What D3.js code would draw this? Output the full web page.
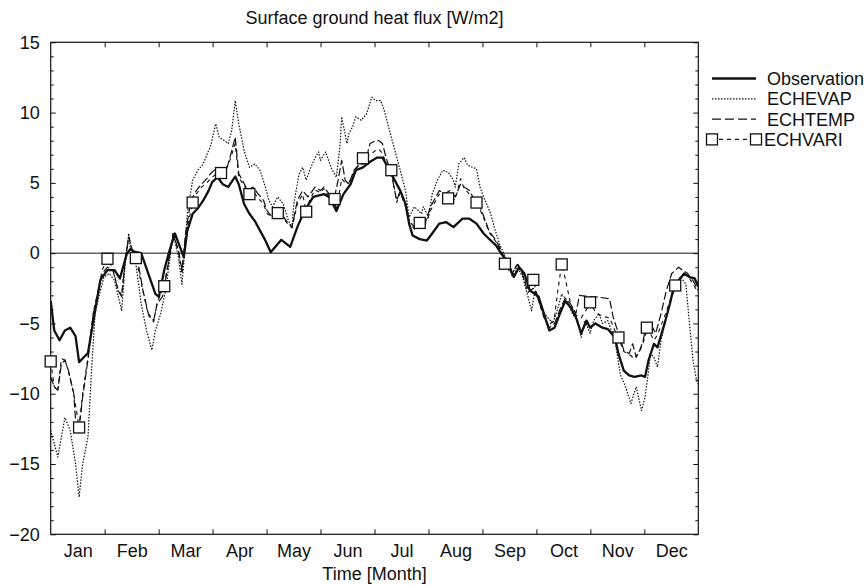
<!DOCTYPE html>
<html>
<head>
<meta charset="utf-8">
<script src="https://cdn.jsdelivr.net/npm/d3@7"></script>
<style>
  body { margin: 0; background: #fff; }
  svg { display: block; font-family: "Liberation Sans", Arial, Helvetica, sans-serif; }
</style>
</head>
<body>
<svg id="chart" width="867" height="586"></svg>
<script>
// ---------- DATA ----------
const monthLabels = ["Jan","Feb","Mar","Apr","May","Jun","Jul","Aug","Sep","Oct","Nov","Dec"];
const yTicks = [-20, -15, -10, -5, 0, 5, 10, 15];

const obsDays = [0,2,5,8,11,14,16,21,25,28,32,36,39,43,45,47,51,55,59,61,64,67,70,73,75,77,80,83,86,89,91,94,97,100,104,106,109,112,115,118,121,124,130,135,139,143,148,154,157,161,165,169,172,176,180,184,187,189,193,197,200,202,204,208,212,215,219,223,227,232,236,240,244,248,251,254,257,261,264,267,270,273,275,278,281,284,287,290,293,296,299,302,304,307,311,314,318,320,323,326,329,333,335,337,340,342,346,349,351,354,357,360,363,365];
const obsValues = [-3.4,-5.5,-6.2,-5.5,-5.3,-5.9,-7.75,-7.1,-4.1,-1.9,-1.2,-1.2,-1.8,0,0.3,0.1,0,-1.45,-2.9,-3.1,-1.2,0.2,1.4,0.4,-0.3,1.6,2.8,3.2,3.75,4.45,5.05,5.4,4.9,4.7,5.45,4.9,3.5,2.8,2.3,1.6,0.9,0.07,0.95,0.45,1.85,3.0,4.0,4.2,4.0,3.0,4.2,4.9,5.9,6.1,6.5,6.8,6.8,6.35,5.4,4.45,3.5,2.1,1.25,1.0,0.9,1.4,2.1,2.2,1.85,2.45,2.45,2.1,1.4,0.9,0.55,-0.05,-0.5,-1.7,-1.0,-1.45,-2.65,-2.9,-3.1,-4.3,-5.5,-5.3,-4.3,-3.4,-3.85,-4.55,-5.7,-4.8,-5.3,-5.0,-5.3,-5.4,-6.0,-7.15,-8.35,-8.7,-8.8,-8.7,-8.8,-7.6,-6.45,-6.7,-5.0,-3.6,-2.5,-1.95,-1.45,-1.7,-1.8,-2.4];

const evapDays = [0,4,8,11,14,16,18,21,23,25,28,30,33,36,40,42,44,45,48,51,54,57,59,62,65,69,72,74,75,77,80,83,86,89,90,93,95,98,100,102,104,106,109,112,115,118,121,123,125,128,131,134,136,137,140,142,144,146,149,151,152,155,158,161,163,164,167,168,170,172,175,178,181,183,186,188,191,194,197,200,202,205,209,210,213,215,218,221,224,227,228,230,233,235,238,240,242,244,248,250,253,255,258,261,263,266,269,271,273,275,277,280,283,286,288,291,294,297,299,301,304,306,309,311,314,318,321,324,327,330,333,335,337,338,340,342,344,347,350,352,355,358,360,362,364,365];
const evapValues = [-12.6,-14.5,-11.7,-12.6,-15.0,-17.35,-15.0,-13.1,-8.35,-4.3,-2.65,-1.7,-1.45,-1.95,-4.1,-0.75,1.4,0.2,-0.75,-3.6,-5.5,-6.9,-5.5,-4.3,-2.5,1.4,-0.3,-2.2,-0.75,2.8,5.2,5.9,6.35,7.3,7.55,9.2,8.25,8.0,7.8,8.7,10.85,9.2,7.3,6.1,6.35,5.9,4.7,3.75,3.3,4.0,3.5,2.3,1.85,3.5,5.65,6.1,5.2,5.9,6.8,7.2,6.6,7.2,6.1,5.4,7.55,9.7,7.8,8.5,8.95,9.7,9.45,9.9,11.1,10.85,10.85,10.15,8.7,7.3,5.9,4.45,2.55,3.3,2.8,3.3,2.55,4.2,5.2,5.9,5.75,5.2,4.7,6.35,6.8,6.25,6.1,6.0,4.7,4.0,2.8,1.85,0.65,0.07,-0.75,-1.7,-1.0,-1.7,-3.1,-4.1,-2.65,-3.4,-4.1,-4.55,-5.0,-3.85,-2.9,-3.4,-4.3,-4.8,-6.0,-4.8,-5.7,-4.8,-4.3,-5.0,-4.8,-6.2,-8.6,-9.5,-10.7,-9.5,-11.2,-10.25,-8.35,-7.15,-7.4,-8.1,-6.2,-4.55,-3.1,-2.2,-1.7,-2.2,-5.0,-7.6,-9.05,-9.3];

const tempDays = [0,2,4,6,8,10,13,14,16,18,21,24,27,29,32,35,38,40,42,44,46,49,52,55,58,60,63,66,69,72,74,76,79,82,85,88,90,93,96,99,101,104,106,108,111,114,117,120,122,125,130,134,136,139,142,145,149,152,154,157,160,162,164,166,168,171,174,177,180,183,185,187,189,192,195,197,200,202,205,208,211,214,216,219,222,225,228,231,233,236,238,242,245,247,251,254,256,260,263,266,269,272,275,278,281,284,287,290,293,296,298,304,307,315,317,320,323,326,328,330,332,334,335,338,341,344,347,350,354,356,359,362,365];
const tempValues = [-8.8,-9.5,-9.75,-7.9,-7.6,-8.35,-10.0,-11.9,-12.4,-10.25,-7.6,-4.3,-2.65,-1.45,-1.0,-1.2,-2.65,-3.1,-0.5,1.15,0.2,-0.5,-2.65,-4.3,-4.8,-3.6,-3.1,-1.0,1.4,0.2,-1.2,1.4,3.75,4.45,4.9,5.3,5.65,6.0,5.9,5.9,6.8,8.25,5.65,5.2,4.45,4.7,4.2,3.75,3.0,2.55,2.8,2.1,1.85,3.75,4.45,4.0,4.7,4.45,4.7,4.2,4.0,5.2,6.6,5.2,4.9,5.9,6.35,6.35,7.8,8.0,8.0,7.8,6.8,5.65,3.75,4.45,3.5,2.3,1.85,2.55,2.1,3.3,3.75,4.45,4.2,4.45,4.0,4.9,4.7,4.45,4.0,3.3,2.3,1.6,0.9,0.2,-0.6,-1.5,-0.8,-1.5,-2.8,-2.5,-3.3,-4.5,-5.3,-5.0,-4.0,-3.2,-3.6,-4.3,-3.0,-3.1,-3.1,-3.25,-4.55,-5.7,-6.9,-7.15,-6.45,-7.4,-6.9,-6.2,-5.5,-5.0,-5.7,-4.3,-2.65,-1.45,-1.0,-1.2,-1.45,-1.95,-2.65];

const variDays = [0,2,4,6,8,10,13,16,18,21,24,27,29,32,35,38,40,42,44,46,48,52,55,58,60,64,66,69,72,74,76,80,82,85,88,90,93,96,98,101,104,106,108,112,114,117,120,122,125,128,130,134,136,139,142,144,146,149,152,154,157,160,161,164,166,168,171,174,176,180,183,185,187,189,192,195,197,200,202,205,208,211,214,216,219,222,224,228,231,233,236,240,242,245,247,251,254,256,260,263,266,269,272,275,278,281,284,286,288,290,293,296,299,302,304,307,311,315,318,320,323,326,329,332,335,336,340,342,346,349,351,352,356,359,362,365];
const variValues = [-7.7,-9.5,-9.8,-7.5,-7.6,-8.4,-10.0,-12.4,-10.0,-7.4,-4.2,-2.5,-1.2,-0.4,-1.1,-2.6,-3.0,-0.4,1.2,0.1,-0.35,-2.7,-4.4,-4.9,-3.5,-2.35,-0.8,1.4,0.1,-1.5,1.2,3.6,4.2,4.7,5.0,5.3,5.6,5.7,5.8,6.6,7.8,5.4,5.0,4.2,4.4,3.9,3.5,2.8,2.6,2.85,2.7,2.0,1.8,3.5,4.2,2.95,3.8,4.5,4.3,4.6,4.0,3.85,3.0,5.3,5.0,5.0,5.8,6.3,6.75,7.0,7.3,7.4,7.1,6.4,5.9,3.6,4.3,3.3,2.2,1.7,2.15,2.0,3.0,3.5,4.2,4.0,3.9,3.8,5.3,4.6,4.2,3.6,3.1,2.2,1.5,0.8,0.1,-0.75,-1.6,-0.7,-1.4,-2.5,-1.9,-3.4,-4.6,-5.2,-4.5,-2.5,-0.8,-1.8,-3.6,-4.4,-4.6,-4.0,-3.5,-4.2,-4.5,-4.6,-5.5,-6.0,-7.0,-7.2,-7.5,-7.0,-6.0,-5.3,-6.2,-5.8,-4.5,-3.4,-2.8,-2.3,-1.5,-1.6,-2.2,-2.8];
const variMarkerDays = [0,16,32,48,64,80,96,112,128,144,160,176,192,208,224,240,256,272,288,304,320,336,352];

const seriesNames = ["Observation","ECHEVAP","ECHTEMP","ECHVARI"];

// ---------- LAYOUT ----------
const svg = d3.select("#chart");
const L = 50.7, R = 698.3, T = 42.3, B = 534.3;
const x = d3.scaleLinear().domain([0, 365]).range([L, R]);
const y = d3.scaleLinear().domain([-20, 15]).range([B, T]);
const ink = "#111";
const FS = 18;

const clipId = "plotclip";
svg.append("defs").append("clipPath").attr("id", clipId)
  .append("rect").attr("x", L).attr("y", T).attr("width", R - L).attr("height", B - T);

// Title
svg.append("text").attr("x", (L + R) / 2).attr("y", 23.5).attr("text-anchor", "middle")
  .attr("font-size", FS).attr("fill", ink).text("Surface ground heat flux [W/m2]");

// zero line
svg.append("line").attr("x1", L).attr("x2", R).attr("y1", y(0)).attr("y2", y(0))
  .attr("stroke", ink).attr("stroke-width", 1);

// Axes
const monthLen = 365 / 12;
const monthBounds = d3.range(1, 12).map(i => i * monthLen);
const monthCenters = monthLabels.map((m, i) => (i + 0.5) * monthLen);
const minorY = d3.range(-20, 16, 1).filter(v => v % 5 !== 0);

function styleAxis(g) {
  g.selectAll(".domain").remove();
  g.selectAll(".tick line").attr("stroke", ink).attr("stroke-width", 1);
  g.selectAll(".tick text").attr("fill", ink);
}

svg.append("g").attr("transform", `translate(0,${B})`)
  .call(d3.axisBottom(x).tickValues(monthBounds).tickSize(-5).tickFormat(""))
  .call(styleAxis);
svg.append("g").attr("transform", `translate(0,${T})`)
  .call(d3.axisTop(x).tickValues(monthBounds).tickSize(-5).tickFormat(""))
  .call(styleAxis);
svg.append("g").attr("transform", `translate(0,${B})`)
  .call(d3.axisBottom(x).tickValues(monthCenters).tickSize(0).tickPadding(10)
    .tickFormat((d, i) => monthLabels[i]))
  .call(styleAxis)
  .call(g => g.selectAll("text").attr("font-size", FS).attr("font-family", "Liberation Sans, Arial, sans-serif"));

svg.append("g").attr("transform", `translate(${L},0)`)
  .call(d3.axisLeft(y).tickValues(yTicks).tickSize(-5).tickPadding(11).tickFormat(d3.format("d")))
  .call(styleAxis)
  .call(g => g.selectAll("text").attr("font-size", FS).attr("font-family", "Liberation Sans, Arial, sans-serif"));
svg.append("g").attr("transform", `translate(${L},0)`)
  .call(d3.axisLeft(y).tickValues(minorY).tickSize(-3).tickFormat(""))
  .call(styleAxis);
svg.append("g").attr("transform", `translate(${R},0)`)
  .call(d3.axisRight(y).tickValues(yTicks).tickSize(-5).tickFormat(""))
  .call(styleAxis);
svg.append("g").attr("transform", `translate(${R},0)`)
  .call(d3.axisRight(y).tickValues(minorY).tickSize(-3).tickFormat(""))
  .call(styleAxis);

// frame
svg.append("rect").attr("x", L).attr("y", T).attr("width", R - L).attr("height", B - T)
  .attr("fill", "none").attr("stroke", ink).attr("stroke-width", 1.2);

// x-axis title
svg.append("text").attr("x", (L + R) / 2).attr("y", 580).attr("text-anchor", "middle")
  .attr("font-size", FS).attr("fill", ink).text("Time [Month]");

// ---------- SERIES ----------
const styles = {
  "Observation": { w: 2.3, dash: null },
  "ECHEVAP": { w: 1.2, dash: "1.5,1.5" },
  "ECHTEMP": { w: 1.2, dash: "8,3" },
  "ECHVARI": { w: 1.1, dash: "4,4" }
};
const seriesData = [
  { name: "ECHEVAP", days: evapDays, vals: evapValues },
  { name: "ECHTEMP", days: tempDays, vals: tempValues },
  { name: "ECHVARI", days: variDays, vals: variValues },
  { name: "Observation", days: obsDays, vals: obsValues }
];
const line = d3.line().x(d => x(d[0])).y(d => y(d[1]));
const plot = svg.append("g").attr("clip-path", `url(#${clipId})`);
seriesData.forEach(s => {
  const pts = s.days.map((d, i) => [d, s.vals[i]]);
  plot.append("path").datum(pts).attr("d", line)
    .attr("fill", "none").attr("stroke", ink)
    .attr("stroke-width", styles[s.name].w)
    .attr("stroke-dasharray", styles[s.name].dash)
    .attr("stroke-linejoin", "round");
});

// ECHVARI markers
const markerPts = variMarkerDays.map(d => [d, variValues[variDays.indexOf(d)]]);
const ms = 11;
svg.append("g").selectAll("rect").data(markerPts).join("rect")
  .attr("x", d => x(d[0]) - ms / 2).attr("y", d => y(d[1]) - ms / 2)
  .attr("width", ms).attr("height", ms)
  .attr("fill", "#fff").attr("stroke", ink).attr("stroke-width", 1.3);

// ---------- LEGEND ----------
const lg = svg.append("g");
const lx1 = 712, lx2 = 756, ly0 = 78.5, ldy = 20.3;
seriesNames.forEach((n, i) => {
  const yy = ly0 + i * ldy;
  if (n === "ECHVARI") {
    lg.append("line").attr("x1", lx1 + 7).attr("x2", lx2 - 6).attr("y1", yy).attr("y2", yy)
      .attr("stroke", ink).attr("stroke-width", 1.2).attr("stroke-dasharray", "4,4");
    [lx1, lx2].forEach(cx => {
      lg.append("rect").attr("x", cx - 5.5).attr("y", yy - 5.5).attr("width", 11).attr("height", 11)
        .attr("fill", "#fff").attr("stroke", ink).attr("stroke-width", 1.3);
    });
  } else {
    lg.append("line").attr("x1", lx1).attr("x2", lx2).attr("y1", yy).attr("y2", yy)
      .attr("stroke", ink).attr("stroke-width", styles[n].w)
      .attr("stroke-dasharray", n === "ECHTEMP" ? "9,4" : styles[n].dash);
  }
  lg.append("text").attr("x", n === "ECHVARI" ? 764 : 767).attr("y", yy).attr("dy", "0.36em")
    .attr("font-size", FS).attr("fill", ink).text(n);
});
</script>
</body>
</html>
